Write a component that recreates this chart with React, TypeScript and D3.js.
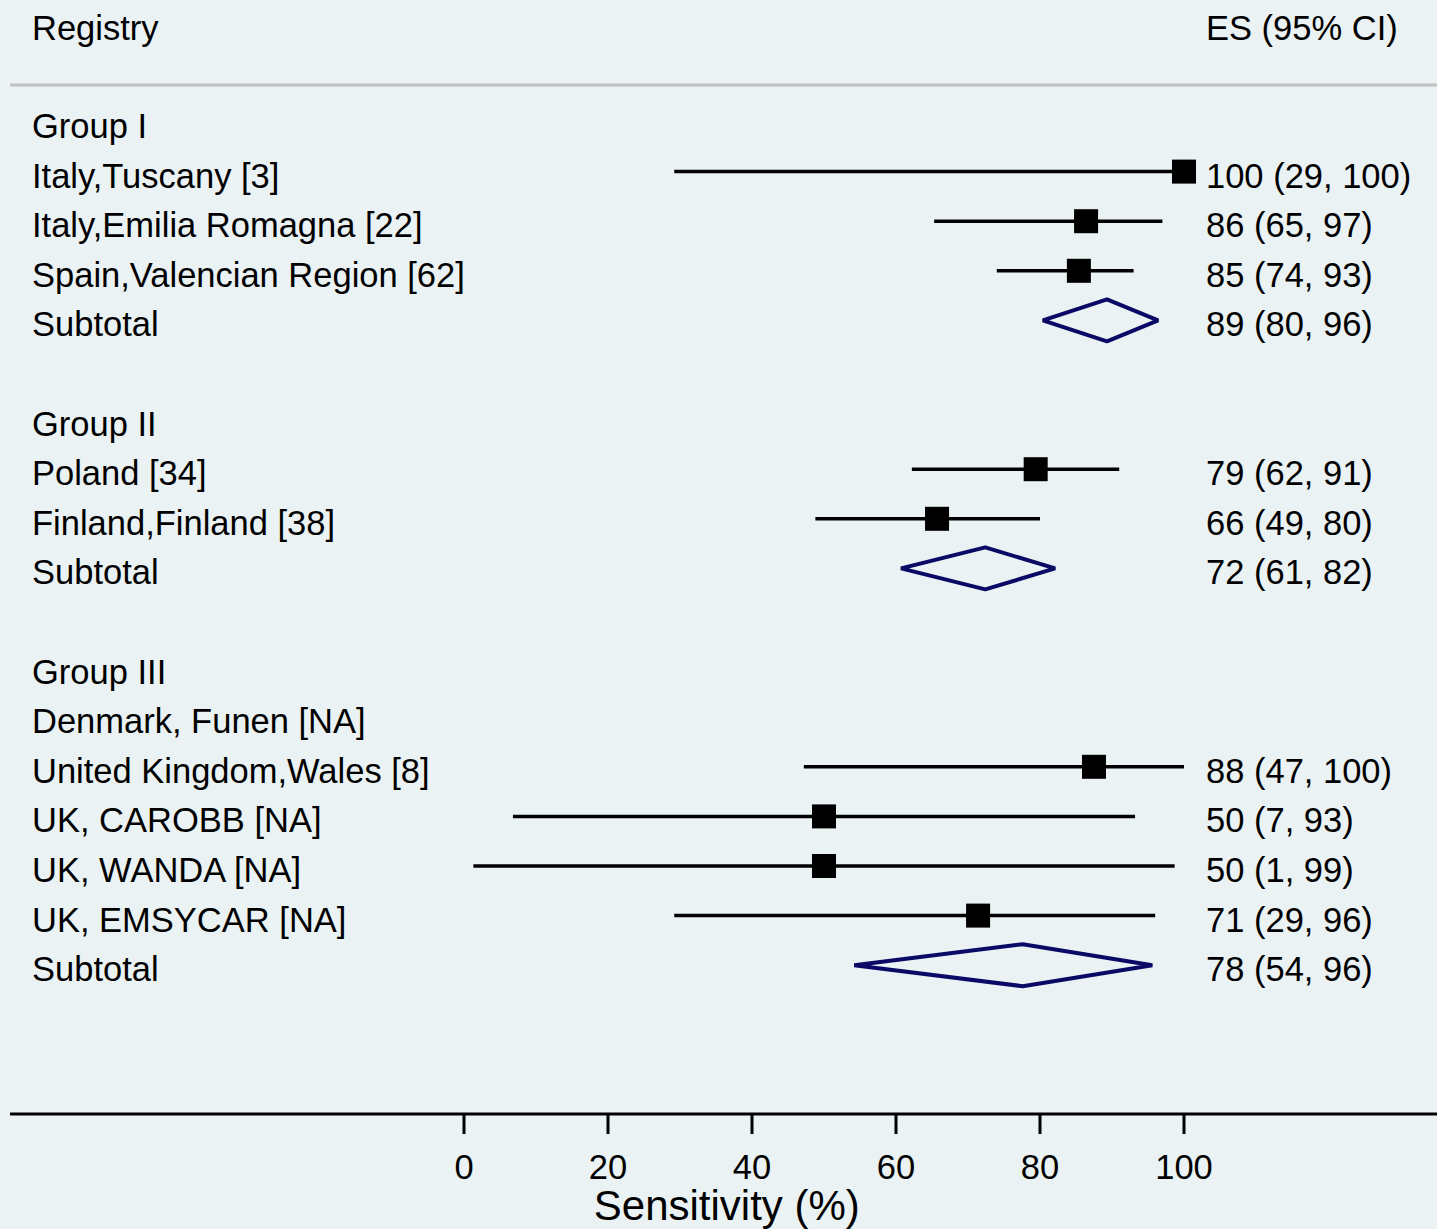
import React from "react";
import * as d3 from "d3";

const rowLabels = [
  "Group I",
  "Italy,Tuscany [3]",
  "Italy,Emilia Romagna [22]",
  "Spain,Valencian Region [62]",
  "Subtotal",
  "",
  "Group II",
  "Poland [34]",
  "Finland,Finland [38]",
  "Subtotal",
  "",
  "Group III",
  "Denmark, Funen [NA]",
  "United Kingdom,Wales [8]",
  "UK, CAROBB [NA]",
  "UK, WANDA [NA]",
  "UK, EMSYCAR [NA]",
  "Subtotal",
];
// row kind: h = heading, s = study, t = subtotal, b = blank, n = no estimate
const rowKinds = ["h", "s", "s", "s", "t", "b", "h", "s", "s", "t", "b", "h", "n", "s", "s", "s", "s", "t"];
const estimates: (number | null)[] = [null, 100, 86.4, 85.4, 89.3, null, null, 79.4, 65.7, 72.4, null, null, null, 87.5, 50, 50, 71.4, 77.6];
const lowers: (number | null)[] = [null, 29.2, 65.3, 74.0, 80.4, null, null, 62.2, 48.8, 60.7, null, null, null, 47.2, 6.8, 1.3, 29.2, 54.2];
const uppers: (number | null)[] = [null, 100, 97, 93, 96.4, null, null, 91, 80, 82.1, null, null, null, 100, 93.2, 98.7, 96, 95.6];
const esLabels = ["", "100 (29, 100)", "86 (65, 97)", "85 (74, 93)", "89 (80, 96)", "", "", "79 (62, 91)", "66 (49, 80)", "72 (61, 82)", "", "", "", "88 (47, 100)", "50 (7, 93)", "50 (1, 99)", "71 (29, 96)", "78 (54, 96)"];
const xTicks = [0, 20, 40, 60, 80, 100];

const W = 1437;
const H = 1229;
const FONT = "'Liberation Sans', Arial, Helvetica, sans-serif";
const FS = 34.5;

export default function App() {
  const x = d3.scaleLinear().domain([0, 100]).range([464, 1184]);
  const y = d3.scaleLinear().domain([0, rowLabels.length - 1]).range([122, 122 + 49.6 * (rowLabels.length - 1)]);
  const sq = 24;
  const dh = 21;

  return (
    <svg
      width={W}
      height={H}
      style={{ position: "absolute", left: 0, top: 0, display: "block" }}
      fontFamily={FONT}
    >
      <rect x={0} y={0} width={W} height={H} fill="#EAF2F3" />
      <text x={32} y={40} fontSize={FS} fill="#000">Registry</text>
      <text x={1206} y={40} fontSize={FS} fill="#000">ES (95% CI)</text>
      <line x1={10} x2={W} y1={85} y2={85} stroke="#C0C0C0" strokeWidth={3} />

      {rowLabels.map((lab, i) => (
        <text key={"l" + i} x={32} y={y(i) + 16} fontSize={FS} fill="#000">{lab}</text>
      ))}

      {rowKinds.map((k, i) => {
        const e = estimates[i], lo = lowers[i], hi = uppers[i];
        if (k === "s" && e != null && lo != null && hi != null) {
          return (
            <g key={"m" + i}>
              <line x1={x(lo)} x2={x(hi)} y1={y(i)} y2={y(i)} stroke="#000" strokeWidth={3.5} />
              <rect x={x(e) - sq / 2} y={y(i) - sq / 2} width={sq} height={sq} fill="#000" />
            </g>
          );
        }
        if (k === "t" && e != null && lo != null && hi != null) {
          const pts = [
            [x(lo), y(i)],
            [x(e), y(i) - dh],
            [x(hi), y(i)],
            [x(e), y(i) + dh],
          ];
          return (
            <polygon key={"m" + i} points={pts.map((p) => p.join(",")).join(" ")} fill="none" stroke="#0A0A66" strokeWidth={4} strokeLinejoin="bevel" />
          );
        }
        return null;
      })}

      {esLabels.map((s, i) =>
        s ? (
          <text key={"e" + i} x={1206} y={y(i) + 16} fontSize={FS} fill="#000">{s}</text>
        ) : null
      )}

      <line x1={10} x2={W} y1={1114} y2={1114} stroke="#000" strokeWidth={3} />
      {xTicks.map((t) => (
        <g key={"t" + t}>
          <line x1={x(t)} x2={x(t)} y1={1114} y2={1134} stroke="#000" strokeWidth={3} />
          <text x={x(t)} y={1179} fontSize={FS} textAnchor="middle" fill="#000">{t}</text>
        </g>
      ))}
      <text x={x(36.5)} y={1220} fontSize={42} textAnchor="middle" fill="#000">Sensitivity (%)</text>
    </svg>
  );
}
